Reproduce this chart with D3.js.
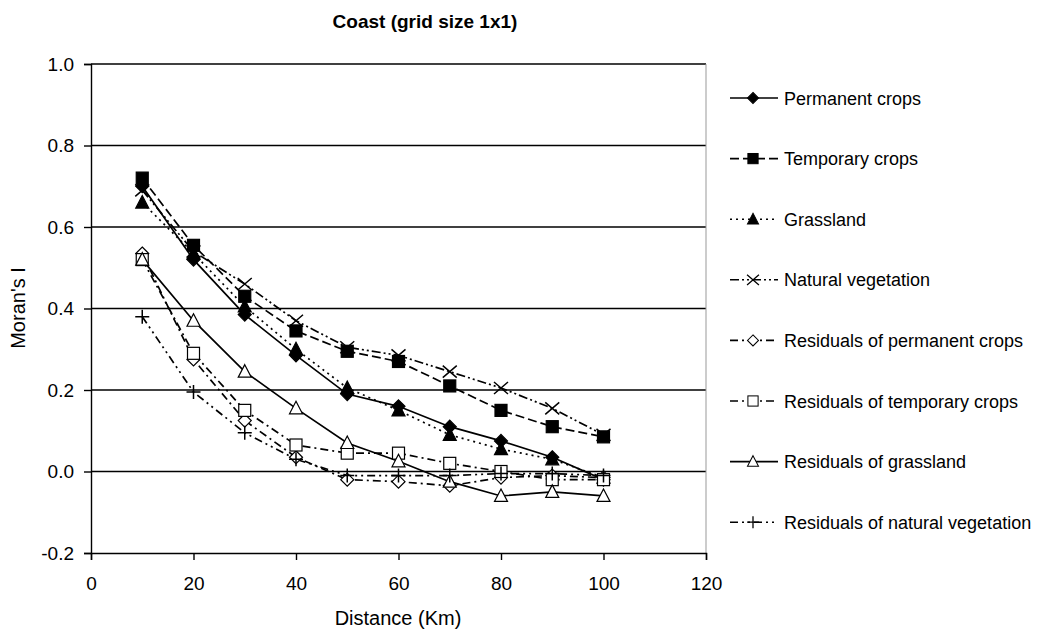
<!DOCTYPE html>
<html>
<head>
<meta charset="utf-8">
<script src="https://cdn.jsdelivr.net/npm/d3@7"></script>
<style>
  body { margin: 0; background: #fff; }
  svg { display: block; font-family: "Liberation Sans", Arial, sans-serif; }
</style>
</head>
<body>
<div id="chart"></div>
<script>
// data
let distances = [10, 20, 30, 40, 50, 60, 70, 80, 90, 100];
let permanent_crops = [0.70, 0.52, 0.385, 0.285, 0.19, 0.16, 0.11, 0.075, 0.035, -0.02];
let temporary_crops = [0.72, 0.555, 0.43, 0.345, 0.295, 0.27, 0.21, 0.15, 0.11, 0.085];
let grassland = [0.66, 0.535, 0.405, 0.30, 0.205, 0.15, 0.09, 0.055, 0.03, -0.015];
let natural_vegetation = [0.69, 0.54, 0.46, 0.37, 0.305, 0.285, 0.245, 0.205, 0.155, 0.09];
let res_permanent = [0.535, 0.275, 0.125, 0.035, -0.02, -0.025, -0.035, -0.015, -0.01, -0.015];
let res_temporary = [0.52, 0.29, 0.15, 0.065, 0.045, 0.045, 0.02, 0.0, -0.02, -0.02];
let res_grassland = [0.52, 0.37, 0.245, 0.155, 0.07, 0.025, -0.025, -0.06, -0.05, -0.06];
let res_natural = [0.38, 0.195, 0.095, 0.03, -0.01, -0.01, -0.01, -0.005, -0.005, -0.01];

let x_ticks = [0, 20, 40, 60, 80, 100, 120];
let y_ticks = [-0.2, 0, 0.2, 0.4, 0.6, 0.8, 1.0];

let series_names = ["Permanent crops", "Temporary crops", "Grassland", "Natural vegetation",
  "Residuals of permanent crops", "Residuals of temporary crops", "Residuals of grassland",
  "Residuals of natural vegetation"];
let series_values = [permanent_crops, temporary_crops, grassland, natural_vegetation,
  res_permanent, res_temporary, res_grassland, res_natural];
let series_markers = ["diamond", "square", "triangle", "cross", "diamond", "square", "triangle", "plus"];
let series_filled = [true, true, true, false, false, false, false, false];
let series_dash = ["none", "9,4", "2,4", "9,3,2,3,2,3", "8,4,2,4", "8,4,2,4", "none", "8,4,2,4,2,4"];

let width = 1037, height = 635;
let margin = { left: 91, right: 706, top: 64, bottom: 553 };

let svg = d3.select("#chart").append("svg")
  .attr("width", width)
  .attr("height", height);

let x = d3.scaleLinear().domain([0, 120]).range([margin.left, margin.right]);
let y = d3.scaleLinear().domain([-0.2, 1.0]).range([margin.bottom, margin.top]);

// title
svg.append("text")
  .attr("x", 425).attr("y", 28)
  .attr("text-anchor", "middle")
  .attr("font-size", "19px").attr("font-weight", "bold")
  .text("Coast (grid size 1x1)");

// gridlines
svg.append("g").selectAll("line")
  .data(y_ticks.filter(d => d > -0.2))
  .join("line")
  .attr("x1", margin.left).attr("x2", margin.right)
  .attr("y1", d => y(d)).attr("y2", d => y(d))
  .attr("stroke", "#000").attr("stroke-width", 1.4);

// right border
svg.append("line")
  .attr("x1", margin.right).attr("x2", margin.right)
  .attr("y1", margin.top).attr("y2", margin.bottom)
  .attr("stroke", "#999").attr("stroke-width", 1);

// axes
let x_axis = svg.append("g")
  .attr("transform", "translate(0," + margin.bottom + ")")
  .call(d3.axisBottom(x).tickValues(x_ticks).tickFormat(d => String(d)).tickSize(7).tickPadding(17));
let y_axis = svg.append("g")
  .attr("transform", "translate(" + margin.left + ",0)")
  .call(d3.axisLeft(y).tickValues(y_ticks).tickFormat(d => d.toFixed(1)).tickSize(7).tickPadding(10));

[x_axis, y_axis].forEach(function (a) {
  a.selectAll("path").attr("stroke", "#000").attr("stroke-width", 1.4);
  a.selectAll("line").attr("stroke", "#000").attr("stroke-width", 1.4);
  a.selectAll("text").attr("font-size", "19px").attr("fill", "#000")
    .attr("font-family", "Liberation Sans, Arial, sans-serif");
});

// axis titles
svg.append("text")
  .attr("x", 398).attr("y", 625)
  .attr("text-anchor", "middle")
  .attr("font-size", "20px")
  .text("Distance (Km)");

svg.append("text")
  .attr("transform", "translate(25,308) rotate(-90)")
  .attr("text-anchor", "middle")
  .attr("font-size", "20px")
  .text("Moran's I");

// marker drawing
function draw_marker(g, kind, filled) {
  let fill = filled ? "#000" : "#fff";
  if (kind === "diamond") {
    g.append("path").attr("d", "M0,-6.5L6.5,0L0,6.5L-6.5,0Z")
      .attr("fill", fill).attr("stroke", "#000").attr("stroke-width", 1.2);
  } else if (kind === "square") {
    g.append("rect").attr("x", -6).attr("y", -6).attr("width", 12).attr("height", 12)
      .attr("fill", fill).attr("stroke", "#000").attr("stroke-width", 1.2);
  } else if (kind === "triangle") {
    g.append("path").attr("d", "M0,-7L6.5,5.5L-6.5,5.5Z")
      .attr("fill", fill).attr("stroke", "#000").attr("stroke-width", 1.2);
  } else if (kind === "cross") {
    g.append("path").attr("d", "M-7,-6L7,6M-7,6L7,-6")
      .attr("stroke", "#000").attr("stroke-width", 1.5).attr("fill", "none");
  } else if (kind === "plus") {
    g.append("path").attr("d", "M-7,0L7,0M0,-7L0,7")
      .attr("stroke", "#000").attr("stroke-width", 1.5).attr("fill", "none");
  }
}

let line = d3.line()
  .x(d => x(d[0]))
  .y(d => y(d[1]));

// lines
series_values.forEach(function (vals, i) {
  let pts = distances.map((d, j) => [d, vals[j]]);
  svg.append("path")
    .datum(pts)
    .attr("d", line)
    .attr("fill", "none")
    .attr("stroke", "#000")
    .attr("stroke-width", 1.7)
    .attr("stroke-dasharray", series_dash[i]);
});

// markers
series_values.forEach(function (vals, i) {
  distances.forEach(function (d, j) {
    let g = svg.append("g").attr("transform", "translate(" + x(d) + "," + y(vals[j]) + ")");
    draw_marker(g, series_markers[i], series_filled[i]);
  });
});

// legend
let legend_y0 = 98, legend_step = 60.6;
series_names.forEach(function (name, i) {
  let ly = legend_y0 + i * legend_step;
  svg.append("line")
    .attr("x1", 730).attr("x2", 778)
    .attr("y1", ly).attr("y2", ly)
    .attr("stroke", "#000").attr("stroke-width", 1.6)
    .attr("stroke-dasharray", series_dash[i]);
  let g = svg.append("g").attr("transform", "translate(753," + ly + ") scale(0.85)");
  draw_marker(g, series_markers[i], series_filled[i]);
  svg.append("text")
    .attr("x", 784).attr("y", ly + 6.5)
    .attr("font-size", "18px")
    .text(name);
});
</script>
</body>
</html>
